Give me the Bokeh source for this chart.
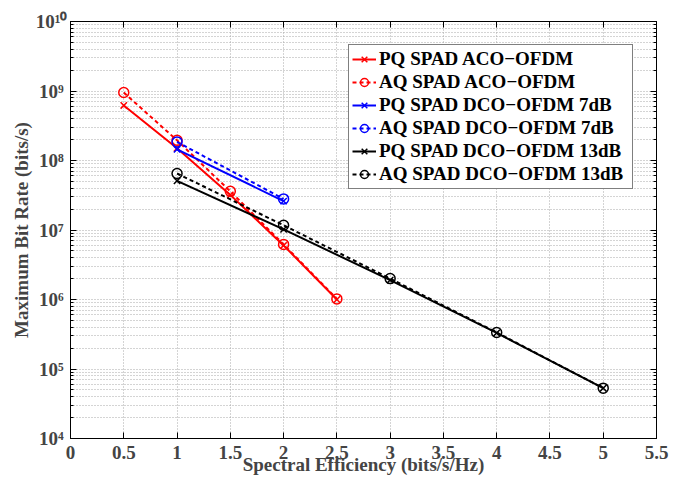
from bokeh.plotting import figure
from bokeh.models import (FixedTicker, LogAxis, LinearAxis, Legend, LegendItem,
                          Range1d, CustomJSTickFormatter)
from bokeh.embed import file_html
from bokeh.resources import INLINE

# ---------------- data ----------------
x_aco = [0.5, 1, 1.5, 2, 2.5]
pq_aco = [6.2e8, 1.5e8, 3.2e7, 6.0e6, 1.0e6]
aq_aco = [9.5e8, 1.95e8, 3.6e7, 6.2e6, 1.02e6]

x_dco7 = [1, 2]
pq_dco7 = [1.45e8, 2.6e7]
aq_dco7 = [1.85e8, 2.8e7]

x_dco13 = [1, 2, 3, 4, 5]
pq_dco13 = [5.1e7, 1.02e7, 1.9e6, 3.3e5, 5.3e4]
aq_dco13 = [6.5e7, 1.17e7, 2.0e6, 3.35e5, 5.3e4]

series_labels = [
    "PQ SPAD ACO\u2212OFDM",
    "AQ SPAD ACO\u2212OFDM",
    "PQ SPAD DCO\u2212OFDM 7dB",
    "AQ SPAD DCO\u2212OFDM 7dB",
    "PQ SPAD DCO\u2212OFDM 13dB",
    "AQ SPAD DCO\u2212OFDM 13dB",
]

x_ticks = [0, 0.5, 1, 1.5, 2, 2.5, 3, 3.5, 4, 4.5, 5, 5.5]
x_tick_labels = ["0", "0.5", "1", "1.5", "2", "2.5", "3", "3.5", "4", "4.5", "5", "5.5"]
y_ticks = [1e4, 1e5, 1e6, 1e7, 1e8, 1e9, 1e10]
y_tick_labels = ["10\u2074\u2009", "10\u2075\u2009", "10\u2076\u2009", "10\u2077\u2009",
                 "10\u2078\u2009", "10\u2079\u2009", "10\u00b9\u2070"]

x_title = "Spectral Efficiency (bits/s/Hz)"
y_title = "Maximum Bit Rate (bits/s)"

# ---------------- styling ----------------
FONT = "Liberation Serif"
GRID = "#a8a8a8"

y_minor = [k * 10 ** e for e in range(4, 10) for k in range(2, 10)]

p = figure(width=678, height=477,
           x_range=Range1d(0, 5.5), y_range=Range1d(1e4, 1e10),
           y_axis_type="log",
           output_backend="svg", toolbar_location=None,
           min_border_left=70, min_border_right=22,
           min_border_top=21, min_border_bottom=39)
p.background_fill_color = "white"
p.border_fill_color = "white"
p.outline_line_color = "black"
p.outline_line_width = 1

xt = FixedTicker(ticks=x_ticks, minor_ticks=[])
yt = FixedTicker(ticks=y_ticks, minor_ticks=y_minor)

# bottom axis
xa = p.xaxis[0]
xa.ticker = xt
xa.major_label_overrides = {t: l for t, l in zip(x_ticks, x_tick_labels)}
xa.axis_label = x_title
xa.axis_label_text_font = FONT
xa.axis_label_text_font_style = "bold"
xa.axis_label_text_font_size = "19px"
xa.axis_label_standoff = -8
xa.major_label_text_font = FONT
xa.major_label_text_font_style = "bold"
xa.major_label_text_font_size = "19px"
xa.major_label_standoff = 7
xa.major_tick_in = 6
xa.major_tick_out = 0
xa.minor_tick_line_color = None
xa.axis_line_color = "black"
xa.major_tick_line_color = "black"

# left axis
ya = p.yaxis[0]
ya.ticker = yt
ya.major_label_overrides = {t: l for t, l in zip(y_ticks, y_tick_labels)}
ya.axis_label = y_title
ya.axis_label_text_font = FONT
ya.axis_label_text_font_style = "bold"
ya.axis_label_text_font_size = "19px"
ya.axis_label_standoff = 1
ya.major_label_text_font = FONT
ya.major_label_text_font_style = "bold"
ya.major_label_text_font_size = "19px"
ya.major_label_standoff = 3
ya.major_tick_in = 6
ya.major_tick_out = 0
ya.minor_tick_in = 3
ya.minor_tick_out = 0
ya.axis_line_color = "black"

blank = CustomJSTickFormatter(code="return ''")

top = LinearAxis(ticker=FixedTicker(ticks=x_ticks, minor_ticks=[]), formatter=blank,
                 major_label_text_font_size="0px", major_label_standoff=0,
                 major_tick_in=6, major_tick_out=0, minor_tick_line_color=None,
                 axis_line_color="black")
p.add_layout(top, "above")

right = LogAxis(ticker=FixedTicker(ticks=y_ticks, minor_ticks=y_minor), formatter=blank,
                major_label_text_font_size="0px", major_label_standoff=0,
                major_tick_in=6, major_tick_out=0, minor_tick_in=3, minor_tick_out=0,
                axis_line_color="black")
p.add_layout(right, "right")

# grid
for g in (p.xgrid, p.ygrid):
    g.grid_line_color = GRID
    g.grid_line_dash = "1 2"
    g.grid_line_width = 1
p.ygrid.minor_grid_line_color = GRID
p.ygrid.minor_grid_line_dash = "1 2"

# ---------------- series ----------------
series = [
    (x_aco, pq_aco, "red", "solid", "x"),
    (x_aco, aq_aco, "red", "4 3", "circle"),
    (x_dco7, pq_dco7, "blue", "solid", "x"),
    (x_dco7, aq_dco7, "blue", "4 3", "circle"),
    (x_dco13, pq_dco13, "black", "solid", "x"),
    (x_dco13, aq_dco13, "black", "4 3", "circle"),
]

items = []
for (xs, ys, col, dash, mk), lab in zip(series, series_labels):
    rl = p.line(xs, ys, line_color=col, line_width=2, line_dash=dash)
    rs = p.scatter(xs, ys, marker=mk, size=9 if mk == "x" else 10,
                   line_color=col, fill_color=None, line_width=1.5)
    items.append(LegendItem(label=lab, renderers=[rl, rs]))

legend = Legend(items=items, location=(278, 249))
legend.label_text_font = FONT
legend.label_text_font_style = "bold"
legend.label_text_font_size = "19px"
legend.label_text_color = "black"
legend.border_line_color = "black"
legend.border_line_width = 1
legend.background_fill_color = "white"
legend.background_fill_alpha = 1
legend.padding = 3
legend.spacing = 1
legend.margin = 0
legend.glyph_width = 24
legend.glyph_height = 20
legend.label_height = 20
legend.label_width = 250
legend.label_standoff = 3
p.add_layout(legend)

open("out.html", "w").write(file_html(p, INLINE))
